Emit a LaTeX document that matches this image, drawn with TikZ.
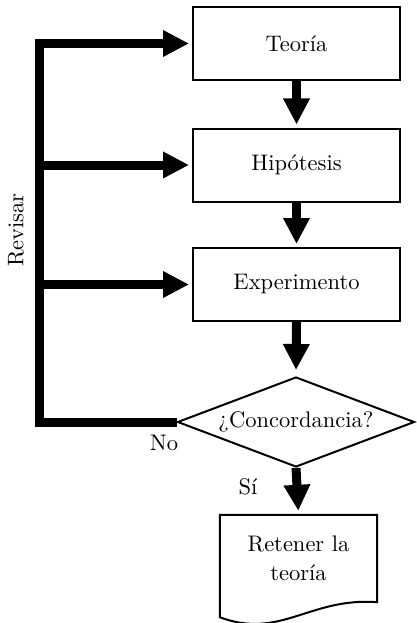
\documentclass[tikz,border=0pt]{standalone}
\usepackage{fontspec}
\usetikzlibrary{arrows.meta,shapes.geometric}
% text set at the 10pt design size, then enlarged
\newcommand{\lbl}[1]{\scalebox{2.25}{\fontsize{10}{13.3}\selectfont #1}}
\begin{document}
\begin{tikzpicture}[x=1pt,y=-1pt,
  stepbox/.style={draw, line width=2pt, minimum width=207pt, minimum height=73pt, inner sep=0pt},
  decision/.style={draw, diamond, aspect=2.63, line width=2pt, minimum width=237pt, minimum height=90pt, inner sep=0pt},
  flow/.style={line width=9pt, -{Triangle[length=26pt,width=25pt]}, shorten >=3pt},
  rail/.style={line width=9pt, line join=miter}]
\useasboundingbox (0,0) rectangle (417,623);

% process steps
\node[stepbox] (teo) at (296.5,43.5) {\lbl{Teoría}};
\node[stepbox] (hip) at (296.5,165) {\lbl{Hipótesis}};
\node[stepbox] (exp) at (296.5,284.5) {\lbl{Experimento}};
\node[decision] (dec) at (296,422) {\lbl{¿Concordancia?}};

% document-shaped outcome
\node[minimum width=157pt, minimum height=102pt, inner sep=0pt] (ret) at (298.5,566) {};
\draw[line width=2pt, line join=miter]
  (ret.south west) -- (ret.north west) -- (ret.north east)
  -- ([yshift=15pt]ret.south east)
  .. controls (310,597) and (280,640) .. (ret.south west) -- cycle;
\node[inner sep=0pt] (rettxt) at ([yshift=6pt]ret.center)
  {\lbl{\begin{tabular}{@{}c@{}}Retener la\\teoría\end{tabular}}};

% main flow
\draw[flow] (teo.south) -- (hip.north);
\draw[flow] (hip.south) -- (exp.north);
\draw[flow, shorten >=6pt] (exp.south) -- (dec.north);
\draw[flow, shorten >=4pt] (dec.south) -- (ret.north);

% feedback loop
\coordinate (rl) at (39,0);
\draw[rail, -{Triangle[length=26pt,width=25pt]}, shorten >=3pt]
  (dec.west) -| (teo.west -| rl) -- (teo.west);
\draw[flow] (hip.west -| rl) -- (hip.west);
\draw[flow] (exp.west -| rl) -- (exp.west);

% labels
\node[inner sep=0pt] (no) at (164,443) {\lbl{No}};
\node[inner sep=0pt] (si) at (248,487) {\lbl{Sí}};
\node[inner sep=0pt, rotate=90] (rev) at (16,230) {\lbl{Revisar}};
\end{tikzpicture}
\end{document}
